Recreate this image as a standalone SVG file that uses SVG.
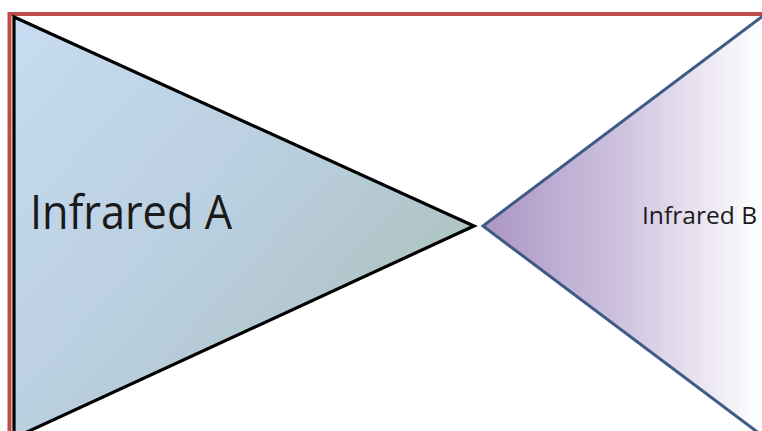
<svg xmlns="http://www.w3.org/2000/svg" width="762" height="431" viewBox="0 0 762 431">
<style>
.lbl{font-family:"Open Sans","Liberation Sans",sans-serif;fill:#1a1a1a}
</style>
<defs>
<linearGradient id="gA" x1="14" y1="17" x2="474" y2="431" gradientUnits="userSpaceOnUse">
<stop offset="0" stop-color="#C7DBF2"/>
<stop offset="0.5" stop-color="#B9CEDD"/>
<stop offset="1" stop-color="#A6BCAF"/>
</linearGradient>
<linearGradient id="gB" x1="483" y1="0" x2="762" y2="0" gradientUnits="userSpaceOnUse">
<stop offset="0" stop-color="#AB95C4"/>
<stop offset="0.5" stop-color="#CFC3DF"/>
<stop offset="1" stop-color="#FFFFFF"/>
</linearGradient>
</defs>
<rect width="762" height="431" fill="#FFFFFF"/>
<g id="frame">
<path d="M9.5 435 V14 H770" fill="none" stroke="#BE4B48" stroke-width="4"/>
</g>
<g id="infrared-a">
<polygon points="14,17 474,226 14,438" fill="url(#gA)" stroke="#000000" stroke-width="3.2" stroke-linejoin="miter"/>
<text class="lbl" x="30" y="229" font-size="47" textLength="202" lengthAdjust="spacingAndGlyphs">Infrared A</text>
</g>
<g id="infrared-b">
<polygon points="483,226 772,9 772,443" fill="url(#gB)" stroke="#3F5A86" stroke-width="3"/>
<text class="lbl" x="642" y="224" font-size="23" textLength="115" lengthAdjust="spacingAndGlyphs">Infrared B</text>
</g>
<g id="connectors"/>
</svg>
